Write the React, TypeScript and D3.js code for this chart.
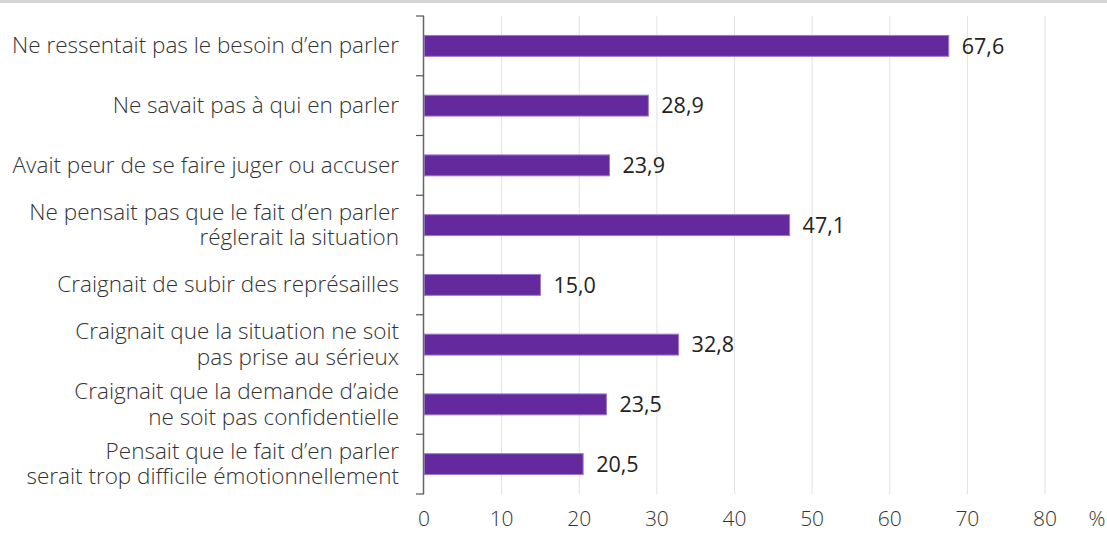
import React, { useEffect, useRef } from "react";
import * as d3 from "d3";

const categories: string[][] = [
  ["Ne ressentait pas le besoin d’en parler"],
  ["Ne savait pas à qui en parler"],
  ["Avait peur de se faire juger ou accuser"],
  ["Ne pensait pas que le fait d’en parler", "réglerait la situation"],
  ["Craignait de subir des représailles"],
  ["Craignait que la situation ne soit", "pas prise au sérieux"],
  ["Craignait que la demande d’aide", "ne soit pas confidentielle"],
  ["Pensait que le fait d’en parler", "serait trop difficile émotionnellement"],
];
const values: number[] = [67.6, 28.9, 23.9, 47.1, 15.0, 32.8, 23.5, 20.5];
const ticks: number[] = [0, 10, 20, 30, 40, 50, 60, 70, 80];
const unit = "%";

const W = 1107;
const H = 534;

export default function App() {
  const ref = useRef<SVGSVGElement>(null);
  useEffect(() => {
    const svg = d3.select(ref.current);
    svg.selectAll("*").remove();
    const x = d3.scaleLinear().domain([0, 80]).range([424, 1045]);
    const idx = categories.map((_, i) => String(i));
    const y = d3.scaleBand().domain(idx).range([16, 494]).paddingInner(0.65).paddingOuter(0.325);
    const font = "'Open Sans', sans-serif";

    svg.append("rect").attr("x", 0).attr("y", 0).attr("width", W).attr("height", 3).attr("fill", "#d4d4d4");

    // gridlines
    svg.append("g").selectAll("line").data(ticks.slice(1)).join("line")
      .attr("x1", (d) => x(d)).attr("x2", (d) => x(d))
      .attr("y1", 16).attr("y2", 494)
      .attr("stroke", "#e2e2e2").attr("stroke-width", 1);

    // bars
    svg.append("g").selectAll("rect").data(values).join("rect")
      .attr("x", x(0) + 0.5)
      .attr("y", (_, i) => y(String(i))!)
      .attr("width", (d) => x(d) - x(0) - 0.5)
      .attr("height", y.bandwidth())
      .attr("fill", "#63299d")
      .attr("stroke", "#9d78cf").attr("stroke-width", 1);

    // value labels
    svg.append("g").selectAll("text").data(values).join("text")
      .attr("x", (d) => x(d) + 13)
      .attr("y", (_, i) => y(String(i))! + y.bandwidth() / 2)
      .attr("dy", "0.36em")
      .attr("font-family", font).attr("font-size", 21.5)
      .attr("fill", "#222")
      .text((d) => d.toFixed(1).replace(".", ","));

    // y axis line and ticks
    const step = y.step();
    svg.append("line").attr("x1", 423.5).attr("x2", 423.5).attr("y1", 16).attr("y2", 494)
      .attr("stroke", "#666").attr("stroke-width", 1.5);
    const bounds = d3.range(categories.length + 1).map((i) => 16 + i * step);
    svg.append("g").selectAll("line").data(bounds).join("line")
      .attr("x1", 416).attr("x2", 424)
      .attr("y1", (d) => d).attr("y2", (d) => d)
      .attr("stroke", "#555").attr("stroke-width", 1.2);

    // category labels
    const lineH = 25.5;
    const g = svg.append("g");
    categories.forEach((lines, i) => {
      const cy = y(String(i))! + y.bandwidth() / 2;
      lines.forEach((ln, j) => {
        g.append("text")
          .attr("x", 399).attr("text-anchor", "end")
          .attr("font-family", font).attr("font-weight", 300).attr("font-size", 22.5)
          .attr("fill", "#333")
          .attr("y", cy + (j - (lines.length - 1) / 2) * lineH)
          .attr("dy", "0.33em").text(ln);
      });
    });

    // x tick labels
    svg.append("g").selectAll("text").data(ticks).join("text")
      .attr("x", (d) => x(d)).attr("y", 526)
      .attr("text-anchor", "middle")
      .attr("font-family", font).attr("font-weight", 300).attr("font-size", 21)
      .attr("fill", "#333")
      .text((d) => String(d));
    svg.append("text").attr("x", 1097).attr("y", 526).attr("text-anchor", "middle")
      .attr("font-family", font).attr("font-weight", 300).attr("font-size", 21)
      .attr("fill", "#333").text(unit);
  }, []);
  return (
    <svg ref={ref} width={W} height={H}
      style={{ position: "absolute", left: 0, top: 0, background: "#fff" }} />
  );
}
